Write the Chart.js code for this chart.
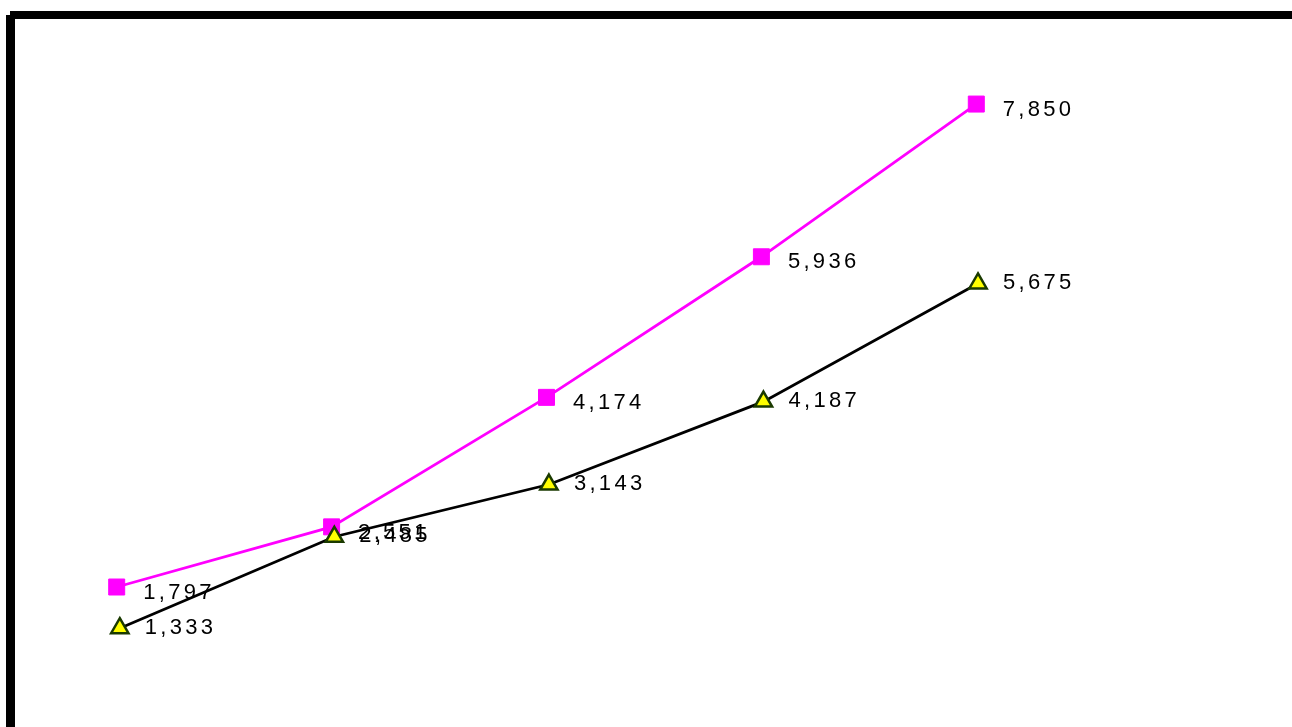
<!DOCTYPE html>
<html>
<head>
<meta charset="utf-8">
<script src="https://cdn.jsdelivr.net/npm/chart.js@4/dist/chart.umd.min.js"></script>
<style>
  html, body { margin: 0; padding: 0; background: #fff; overflow: hidden; }
  body { width: 1292px; height: 727px; position: relative; }
  canvas { position: absolute; left: 0; top: 0; }
  .frame-top { position: absolute; left: 10px; top: 11px; width: 1282px; height: 8px; background: #000; }
  .frame-left { position: absolute; left: 6px; top: 15px; width: 9px; height: 712px; background: #000; }
</style>
</head>
<body>
<div class="frame-top"></div>
<div class="frame-left"></div>
<canvas id="chartPink" width="1292" height="760"></canvas>
<canvas id="chartBlack" width="1292" height="760"></canvas>
<script>
// categorias e valores
const categorias = ["1", "2", "3", "4", "5"];
const serieRosa = [1797, 2551, 4174, 5936, 7850];
const seriePreta = [1333, 2485, 3143, 4187, 5675];
const yMin = 0;
const yMax = 9000;

// escreve o valor ao lado de cada ponto
const rotulos = {
  id: "rotulos",
  afterDatasetsDraw(chart, args, opts) {
    const ctx = chart.ctx;
    ctx.save();
    ctx.font = "22px 'Liberation Sans', Arial, sans-serif";
    ctx.letterSpacing = "3.3px";
    ctx.fillStyle = "#000";
    ctx.textAlign = "left";
    ctx.textBaseline = "middle";
    chart.getDatasetMeta(0).data.forEach((pt, i) => {
      const v = chart.data.datasets[0].data[i];
      ctx.fillText(v.toLocaleString("en-US"), pt.x + opts.dx, pt.y + opts.dy);
    });
    ctx.restore();
  },
};

function criarGrafico(id, valores, estilo, padding, offset) {
  const ctx = document.getElementById(id).getContext("2d");
  return new Chart(ctx, {
    type: "line",
    data: {
      labels: categorias,
      datasets: [
        {
          data: valores,
          borderColor: estilo.linha,
          borderWidth: 2.8,
          pointStyle: estilo.ponto,
          pointRadius: estilo.raio,
          pointBackgroundColor: estilo.fundo,
          pointBorderColor: estilo.borda,
          pointBorderWidth: estilo.bordaLargura,
          tension: 0,
          clip: false,
        },
      ],
    },
    options: {
      responsive: false,
      animation: false,
      events: [],
      layout: { padding },
      plugins: {
        legend: { display: false },
        tooltip: { enabled: false },
        rotulos: offset,
      },
      scales: {
        x: { display: false, offset: false },
        y: { display: false, min: yMin, max: yMax },
      },
    },
    plugins: [rotulos],
  });
}

criarGrafico(
  "chartPink",
  serieRosa,
  { linha: "#ff00ff", ponto: "rect", raio: 11.3, fundo: "#ff00ff", borda: "#ff00ff", bordaLargura: 1 },
  { left: 116.7, right: 315.7, top: 12.2, bottom: 29.6 },
  { dx: 26.5, dy: 5.6 }
);

criarGrafico(
  "chartBlack",
  seriePreta,
  { linha: "#000000", ponto: "triangle", raio: 10, fundo: "#ffff00", borda: "#1a3a00", bordaLargura: 2.5 },
  { left: 119.8, right: 314, top: 19.4, bottom: 25.9 },
  { dx: 25, dy: -0.5 }
);
</script>
</body>
</html>
